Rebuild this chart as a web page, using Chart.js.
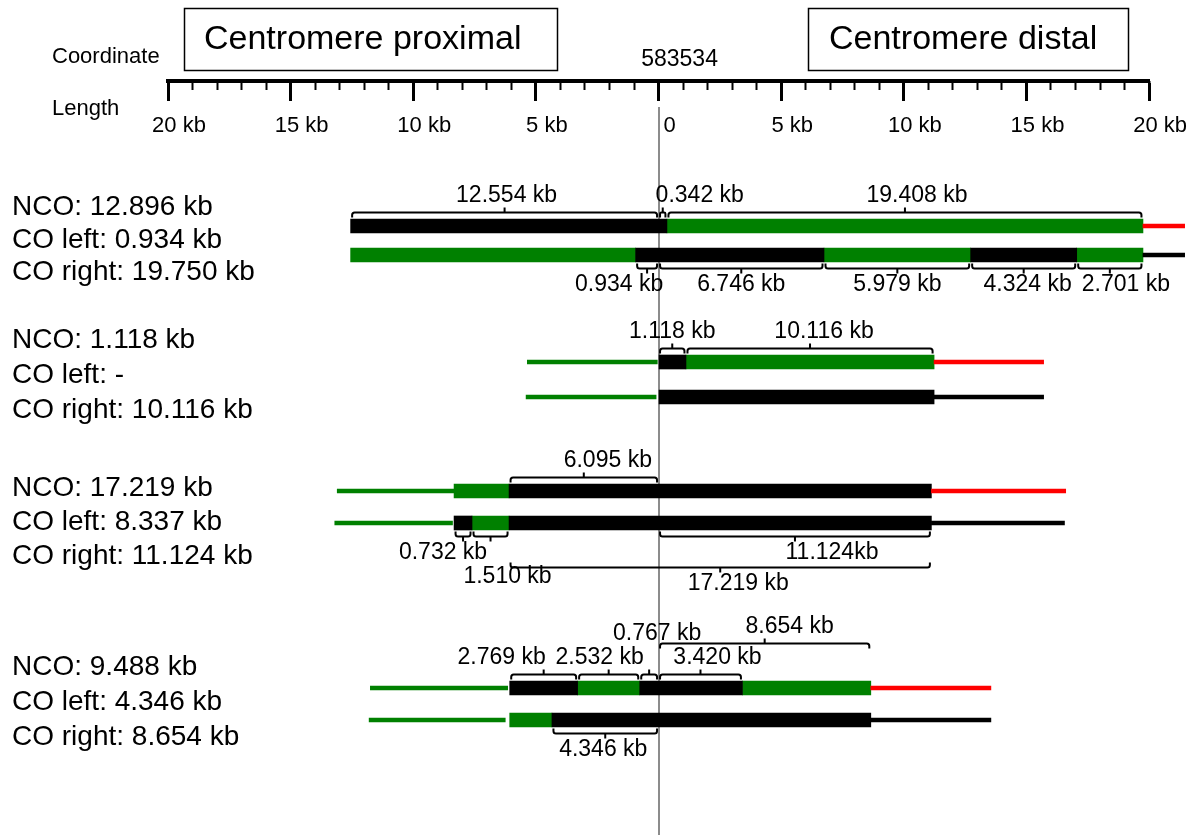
<!DOCTYPE html>
<html>
<head>
<meta charset="utf-8">
<script src="https://cdn.jsdelivr.net/npm/chart.js@4.4.1/dist/chart.umd.min.js"></script>
<style>
  html, body { margin: 0; padding: 0; background: #ffffff; }
  #wrap { width: 1190px; height: 835px; position: relative; }
</style>
</head>
<body>
<div id="wrap"><canvas id="c" width="1190" height="835"></canvas></div>
<script>
// Positions are in kb relative to coordinate 583534 (negative = centromere proximal).
const axisMin = -20;
const axisMax = 20;
const majorStep = 5;
const minorStep = 1;
const centerCoordinate = '583534';

// Event 1
const ev1Summary   = ['NCO: 12.896 kb', 'CO left: 0.934 kb', 'CO right: 19.750 kb'];
const ev1TopEdges  = [-12.554, 0.342, 19.750];
const ev1TopFills  = ['k', 'g'];
const ev1TopFlanks = [['r', 19.750, 21.45]];
const ev1BotEdges  = [-12.554, -0.934, 6.746, 12.725, 17.049, 19.750];
const ev1BotFills  = ['g', 'k', 'g', 'k', 'g'];
const ev1BotFlanks = [['k', 19.750, 21.45]];
const ev1Above     = [[-12.554, '12.554 kb'], [0, '0.342 kb'], [0.342, '19.408 kb']];
const ev1Below     = [[-0.934, '0.934 kb'], [0, '6.746 kb'], [6.746, '5.979 kb'], [12.725, '4.324 kb'], [17.049, '2.701 kb']];

// Event 2
const ev2Summary   = ['NCO: 1.118 kb', 'CO left: -', 'CO right: 10.116 kb'];
const ev2TopEdges  = [0, 1.118, 11.234];
const ev2TopFills  = ['k', 'g'];
const ev2TopFlanks = [['g', -5.35, -0.05], ['r', 11.234, 15.7]];
const ev2BotEdges  = [0, 11.234];
const ev2BotFills  = ['k'];
const ev2BotFlanks = [['g', -5.4, -0.1], ['k', 11.234, 15.7]];
const ev2Above     = [[0, '1.118 kb'], [1.118, '10.116 kb']];

// Event 3
const ev3Summary   = ['NCO: 17.219 kb', 'CO left: 8.337 kb', 'CO right: 11.124 kb'];
const ev3TopEdges  = [-8.337, -6.095, 11.124];
const ev3TopFills  = ['g', 'k'];
const ev3TopFlanks = [['g', -13.1, -8.337], ['r', 11.124, 16.6]];
const ev3BotEdges  = [-8.337, -7.605, -6.095, 11.124];
const ev3BotFills  = ['k', 'g', 'k'];
const ev3BotFlanks = [['g', -13.2, -8.4], ['k', 11.124, 16.55]];
const ev3Above     = [[-6.095, '6.095 kb']];
const ev3Below     = [[-8.337, '0.732 kb'], [-7.605, '1.510 kb'], [0, '11.124kb']];
const ev3Below2    = [[-6.095, '17.219 kb']];

// Event 4
const ev4Summary   = ['NCO: 9.488 kb', 'CO left: 4.346 kb', 'CO right: 8.654 kb'];
const ev4TopEdges  = [-6.068, -3.299, -0.767, 3.420, 8.654];
const ev4TopFills  = ['k', 'g', 'k', 'g'];
const ev4TopFlanks = [['g', -11.75, -6.15], ['r', 8.654, 13.55]];
const ev4BotEdges  = [-6.068, -4.346, 8.654];
const ev4BotFills  = ['g', 'k'];
const ev4BotFlanks = [['g', -11.8, -6.25], ['k', 8.654, 13.55]];
const ev4Above     = [[-6.068, '2.769 kb'], [-3.299, '2.532 kb'], [-0.767, '0.767 kb'], [0, '3.420 kb']];
const ev4Above2    = [[0, '8.654 kb']];
const ev4Below     = [[-4.346, '4.346 kb']];

// ---- layout (vertical placement on a 0..835 layout scale, label nudges in px) ----
const AXIS_Y = 81;
const TRACK_Y = [[226, 255], [362, 397], [491, 523], [688, 720]];
const SUMMARY_Y = [[207, 240, 272], [340, 375, 410], [488, 522, 556], [667, 702, 737]];
const nudge = {
  ev1Above: [[2, 0], [37, 0], [12, 0]],
  ev1Below: [[-28, 0], [0, 0], [0, 0], [4, 0], [16, 0]],
  ev2Above: [[0, 0], [14, 0]],
  ev3Above: [[24, 0]],
  ev3Below: [[-20, 0], [17, 24], [37, 0]],
  ev3Below2: [[18, 0]],
  ev4Above: [[-42, 0], [-9, 0], [8, -24], [17, 0]],
  ev4Above2: [[25, 0]],
  ev4Below: [[-2, 0]]
};
const COLORS = { k: '#000000', g: '#008000', r: '#ff0000' };
const FONT = "'Liberation Sans', Arial, Helvetica, sans-serif";

const events = [
  { summary: ev1Summary, tracks: [[ev1TopEdges, ev1TopFills, ev1TopFlanks], [ev1BotEdges, ev1BotFills, ev1BotFlanks]],
    brackets: [[ev1Above, 0, -1, nudge.ev1Above], [ev1Below, 1, 1, nudge.ev1Below]] },
  { summary: ev2Summary, tracks: [[ev2TopEdges, ev2TopFills, ev2TopFlanks], [ev2BotEdges, ev2BotFills, ev2BotFlanks]],
    brackets: [[ev2Above, 0, -1, nudge.ev2Above]] },
  { summary: ev3Summary, tracks: [[ev3TopEdges, ev3TopFills, ev3TopFlanks], [ev3BotEdges, ev3BotFills, ev3BotFlanks]],
    brackets: [[ev3Above, 0, -1, nudge.ev3Above], [ev3Below, 1, 1, nudge.ev3Below], [ev3Below2, 1, 2, nudge.ev3Below2]] },
  { summary: ev4Summary, tracks: [[ev4TopEdges, ev4TopFills, ev4TopFlanks], [ev4BotEdges, ev4BotFills, ev4BotFlanks]],
    brackets: [[ev4Above, 0, -1, nudge.ev4Above], [ev4Above2, 0, -2, nudge.ev4Above2], [ev4Below, 1, 1, nudge.ev4Below]] }
];

// Build datasets: thick bars for the tracts, thin bars for flanking sequence.
const barData = { k: [], g: [] };
const flankData = { k: [], g: [], r: [] };
events.forEach((ev, e) => {
  ev.tracks.forEach(([edges, fills, flanks], t) => {
    const y = TRACK_Y[e][t];
    fills.forEach((f, i) => barData[f].push({ x: [edges[i], edges[i + 1]], y }));
    flanks.forEach(([f, a, b]) => flankData[f].push({ x: [a, b], y }));
  });
});

const common = { grouped: false, clip: false, borderWidth: 0, xAxisID: 'x', yAxisID: 'y' };
const datasets = [
  ...Object.keys(flankData).map(c => ({ ...common, label: 'flank ' + c, data: flankData[c], backgroundColor: COLORS[c], barThickness: 4 })),
  ...Object.keys(barData).map(c => ({ ...common, label: 'tract ' + c, data: barData[c], backgroundColor: COLORS[c], barThickness: 14 }))
];

function drawBracket(ctx, x1, x2, y, hookDir) {
  const h = 5 * hookDir;
  const r = Math.min(2.5, Math.abs(x2 - x1) / 4);
  const xm = (x1 + x2) / 2;
  ctx.beginPath();
  ctx.moveTo(x1, y + h);
  ctx.arcTo(x1, y, x1 + r, y, r);
  ctx.arcTo(x2, y, x2, y + h, r);
  ctx.lineTo(x2, y + h);
  ctx.moveTo(xm, y);
  ctx.lineTo(xm, y - h);
  ctx.stroke();
}

const annotations = {
  id: 'annotations',
  beforeDatasetsDraw(chart) {
    const { ctx } = chart;
    const xs = chart.scales.x;
    const x0 = Math.round(xs.getPixelForValue(0));
    ctx.save();
    ctx.strokeStyle = '#8c8c8c';
    ctx.lineWidth = 2;
    ctx.beginPath();
    ctx.moveTo(x0, 107);
    ctx.lineTo(x0, 835);
    ctx.stroke();
    ctx.restore();
  },
  afterDraw(chart) {
    const { ctx } = chart;
    const xs = chart.scales.x;
    const ys = chart.scales.y;
    ctx.save();
    ctx.fillStyle = '#000';
    ctx.strokeStyle = '#000';

    // Region boxes
    ctx.lineWidth = 1.5;
    ctx.strokeRect(184.5, 8.5, 373, 62);
    ctx.strokeRect(808.5, 8.5, 320, 62);
    ctx.font = '34px ' + FONT;
    ctx.textBaseline = 'middle';
    ctx.textAlign = 'left';
    ctx.fillText('Centromere proximal', 204, 40);
    ctx.fillText('Centromere distal', 829, 40);

    ctx.font = '22px ' + FONT;
    ctx.fillText('Coordinate', 52, 57);
    ctx.fillText('Length', 52, 109);
    ctx.textAlign = 'center';
    ctx.font = '23px ' + FONT;
    ctx.fillText(centerCoordinate, xs.getPixelForValue(0) + 21, 60);

    // Event summaries
    ctx.textAlign = 'left';
    ctx.font = '28px ' + FONT;
    events.forEach((ev, e) => {
      ev.summary.forEach((s, i) => ctx.fillText(s, 12, SUMMARY_Y[e][i]));
    });

    // Length brackets
    ctx.lineWidth = 2;
    ctx.font = '23px ' + FONT;
    ctx.textAlign = 'center';
    events.forEach((ev, e) => {
      ev.brackets.forEach(([list, track, level, nd]) => {
        const yc = ys.getPixelForValue(TRACK_Y[e][track]);
        const above = level < 0;
        const edge = above ? yc - 7 : yc + 7;
        const depth = Math.abs(level) === 1 ? 6.5 : 37.5;
        const yLine = above ? edge - depth : edge + depth;
        list.forEach(([start, label], i) => {
          const len = parseFloat(label);
          const x1 = xs.getPixelForValue(start) + 1.5;
          const x2 = xs.getPixelForValue(start + len) - 1.5;
          drawBracket(ctx, x1, x2, yLine, above ? 1 : -1);
          const [dx, dy] = nd[i];
          const ty = above ? yLine - 17 : yLine + 16;
          ctx.fillText(label, (x1 + x2) / 2 + dx, ty + dy);
        });
      });
    });
    ctx.restore();
  }
};

Chart.defaults.font.family = FONT;
Chart.defaults.color = '#000';

new Chart(document.getElementById('c'), {
  type: 'bar',
  data: { datasets },
  plugins: [annotations],
  options: {
    indexAxis: 'y',
    responsive: false,
    animation: false,
    events: [],
    layout: { padding: { left: 168, right: 40, top: 0, bottom: 0 } },
    plugins: { legend: { display: false }, tooltip: { enabled: false } },
    scales: {
      x: {
        type: 'linear', min: axisMin, max: axisMax,
        position: { y: AXIS_Y },
        border: { display: true, width: 4, color: '#000' },
        grid: { drawOnChartArea: false, drawTicks: true, tickLength: 18, tickWidth: 3, tickColor: '#000' },
        ticks: {
          stepSize: majorStep, autoSkip: false, maxRotation: 0, padding: 14, labelOffset: 11,
          font: { size: 22 }, color: '#000',
          callback: v => v === 0 ? '0' : Math.abs(v) + ' kb'
        }
      },
      xMinor: {
        type: 'linear', axis: 'x', min: axisMin, max: axisMax,
        position: { y: AXIS_Y },
        border: { display: false },
        grid: { drawOnChartArea: false, drawTicks: true, tickLength: 9, tickWidth: 2, tickColor: '#000' },
        ticks: { stepSize: minorStep, autoSkip: false, maxRotation: 0, callback: () => '' }
      },
      y: {
        type: 'linear', min: 0, max: 835, reverse: true, offset: false, display: false
      }
    }
  }
});
</script>
</body>
</html>
